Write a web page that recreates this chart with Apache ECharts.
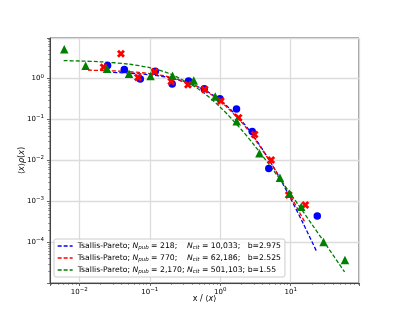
<!DOCTYPE html>
<html><head><meta charset="utf-8">
<script src="https://cdn.jsdelivr.net/npm/echarts@6/dist/echarts.min.js"></script>
<style>html,body{margin:0;padding:0;background:#fff}#c{width:399px;height:319px}</style>
</head><body><div id="c"></div>
<script>
// Scatter data
const blueX = [0.0252, 0.0435, 0.0733, 0.1197, 0.208, 0.355, 0.593, 0.99, 1.70, 2.84, 4.88, 23.8];
const blueY = [2.08, 1.66, 0.98, 1.51, 0.734, 0.869, 0.561, 0.321, 0.182, 0.0510, 0.00638, 0.000443];
const redX = [0.0221, 0.0390, 0.068, 0.117, 0.202, 0.348, 0.602, 1.02, 1.82, 3.07, 5.28, 9.38, 16.1];
const redY = [1.89, 4.07, 1.07, 1.46, 0.845, 0.706, 0.539, 0.283, 0.110, 0.0431, 0.0103, 0.00144, 0.00082];
const greenX = [0.00612, 0.0123, 0.0247, 0.0507, 0.1025, 0.210, 0.421, 0.849, 1.71, 3.60, 7.03, 9.62, 14.1, 29.2, 58.7];
const greenY = [5.24, 2.05, 1.75, 1.31, 1.16, 1.18, 0.904, 0.364, 0.091, 0.0151, 0.00379, 0.00154, 0.000747, 0.000102, 0.000037];
// Dashed fit curves
const blueFitX = [0.025, 0.05, 0.1, 0.2, 0.5, 1, 2, 3, 5, 7, 10, 15, 23];
const blueFitY = [1.433, 1.364, 1.238, 1.027, 0.614, 0.2955, 0.0934, 0.0383, 0.00999, 0.00367, 0.001166, 0.000291, 0.0000628];
const redFitX = [0.0133, 0.025, 0.05, 0.1, 0.2, 0.5, 1, 2, 3, 5, 7, 10, 16];
const redFitY = [1.607, 1.564, 1.478, 1.324, 1.072, 0.609, 0.280, 0.0864, 0.0358, 0.00986, 0.00384, 0.00133, 0.000303];
const greenFitX = [0.006, 0.01, 0.02, 0.05, 0.1, 0.2, 0.5, 1, 2, 3, 5, 10, 20, 30, 58];
const greenFitY = [2.741, 2.692, 2.573, 2.257, 1.841, 1.278, 0.542, 0.2007, 0.0564, 0.02425, 0.00776, 0.00151, 0.000276, 0.0001003, 0.0000191];
// Legend text
const seriesNames = ['fit218', 'fit770', 'fit2170'];
const legendLabels = [
  'Tsallis-Pareto; {i|N}{s|pub} = 218;    {i|N}{s|cit} = 10,033;   b=2.975',
  'Tsallis-Pareto; {i|N}{s|pub} = 770;    {i|N}{s|cit} = 62,186;   b=2.525',
  'Tsallis-Pareto; {i|N}{s|pub} = 2,170; {i|N}{s|cit} = 501,103; b=1.55'
];
const xName = 'x / \u27e8{i|x}\u27e9';
const yName = '\u27e8{i|x}\u27e9{i|\u03c1}({i|x})';

const FONT = 'DejaVu Sans';
const AX = '#444';
const GRIDC = '#dcdcdc';
const zip = (xs, ys) => xs.map((x, i) => [x, ys[i]]);
function logLabel(v) {
  const e = Math.log10(v), r = Math.round(e);
  if (Math.abs(e - r) > 1e-6) return '';
  return '10{sup|' + (r < 0 ? '\u2212' + (-r) : r) + '}';
}
const labelRich = { sup: { fontSize: 5.5, fontFamily: FONT, color: '#000', padding: [0, 0, 5, 0] } };
const nameRich = { i: { fontStyle: 'italic', fontFamily: FONT, fontSize: 8, color: '#000' } };
function axisCommon() {
  return {
    type: 'log', logBase: 10,
    axisLine: { show: true, lineStyle: { color: AX, width: 1 } },
    axisTick: { show: true, inside: false, length: 3, lineStyle: { color: AX, width: 0.8 } },
    minorTick: { show: true, splitNumber: 9, length: 1.8, lineStyle: { color: AX, width: 0.6 } },
    splitLine: { show: true, lineStyle: { color: GRIDC, width: 1.3 } },
    minorSplitLine: { show: false },
    axisLabel: { formatter: logLabel, showMinLabel: false, showMaxLabel: false, fontFamily: FONT, fontSize: 7, color: '#000', rich: labelRich },
    nameLocation: 'middle', nameMoveOverlap: false,
    nameTextStyle: { fontFamily: FONT, fontSize: 8, color: '#000', rich: nameRich }
  };
}
const xAxis = Object.assign(axisCommon(), { min: 0.00384, max: 93, name: xName, nameGap: 12 });
xAxis.axisLabel = Object.assign({}, xAxis.axisLabel, { margin: 4 });
const yAxis = Object.assign(axisCommon(), { min: 1.02e-5, max: 9.8, name: yName, nameGap: 24 });
yAxis.axisLabel = Object.assign({}, yAxis.axisLabel, { margin: 6 });

const XPATH = 'path://M0,2.5L2.5,0L5,2.5L7.5,0L10,2.5L7.5,5L10,7.5L7.5,10L5,7.5L2.5,10L0,7.5L2.5,5Z';
function lineSeries(name, xs, ys, color) {
  return { type: 'line', name, data: zip(xs, ys), symbol: 'none', showSymbol: false, smooth: 0.3,
    color, lineStyle: { color, width: 1.3, type: [4, 2] }, z: 3 };
}
function scatterSeries(xs, ys, color, symbol, size) {
  return { type: 'scatter', data: zip(xs, ys), symbol, symbolSize: size, itemStyle: { color, opacity: 1 }, z: 3 };
}
const option = {
  animation: false,
  backgroundColor: '#fff',
  grid: { left: 50, right: 40, top: 38, bottom: 36, show: true, borderColor: AX, borderWidth: 1, backgroundColor: 'transparent', outerBoundsMode: 'none', containLabel: false },
  xAxis, yAxis,
  legend: {
    data: seriesNames, orient: 'vertical', left: 54, top: 239,
    itemWidth: 15, itemHeight: 8, itemGap: 3, itemTextGap: 7,
    itemStyle: { opacity: 0 },
    lineStyle: { width: 1.3, type: [4, 2] },
    padding: [3, 4, 2, 3], backgroundColor: 'rgba(255,255,255,0.8)', borderColor: '#cccccc', borderWidth: 1, borderRadius: 2,
    formatter: (n) => legendLabels[seriesNames.indexOf(n)],
    textStyle: { fontFamily: FONT, fontSize: 7.7, color: '#000',
      rich: { i: { fontStyle: 'italic', fontFamily: FONT, fontSize: 7.7, color: '#000' },
              s: { fontStyle: 'italic', fontFamily: FONT, fontSize: 5.5, color: '#000', padding: [4, 0, 0, 0] } } }
  },
  series: [
    scatterSeries(blueX, blueY, '#0000ff', 'circle', 7.5),
    lineSeries(seriesNames[0], blueFitX, blueFitY, '#0000ff'),
    scatterSeries(redX, redY, '#ff0000', XPATH, 8),
    lineSeries(seriesNames[1], redFitX, redFitY, '#ff0000'),
    scatterSeries(greenX, greenY, '#008000', 'triangle', 8.5),
    lineSeries(seriesNames[2], greenFitX, greenFitY, '#008000')
  ]
};
const chart = echarts.init(document.getElementById('c'), null, { renderer: 'canvas' });
chart.setOption(option);
</script>
</body></html>
